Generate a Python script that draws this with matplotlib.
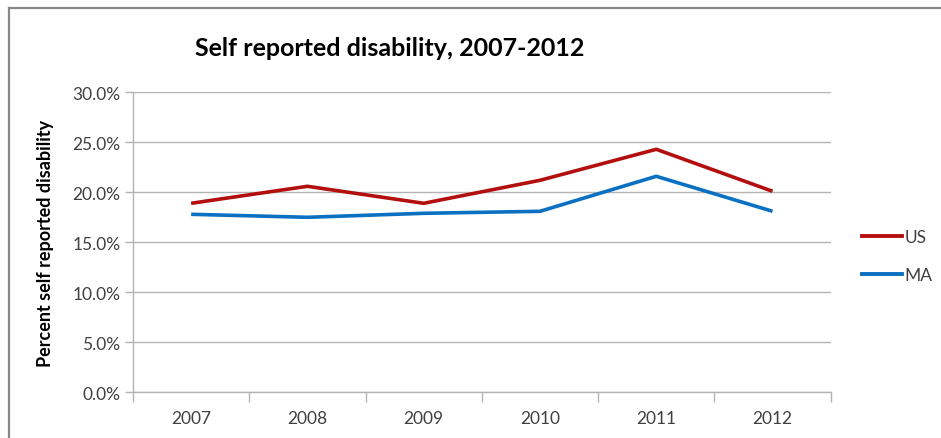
import matplotlib.pyplot as plt
from matplotlib.ticker import FuncFormatter, FixedLocator
from matplotlib.lines import Line2D

# Data
years = ['2007', '2008', '2009', '2010', '2011', '2012']
us_pct = [18.9, 20.6, 18.9, 21.2, 24.3, 20.1]
ma_pct = [17.8, 17.5, 17.9, 18.1, 21.6, 18.1]

US_COLOR = '#B40F0F'
MA_COLOR = '#0A70C2'
GRID = '#B4B4B4'
TEXT = '#404040'

plt.rcParams['font.family'] = ['Lato', 'DejaVu Sans']

fig = plt.figure(figsize=(9.41, 4.39), dpi=100)
ax = fig.add_axes([133 / 941, 1 - 393.3 / 439, (830.7 - 133) / 941, 300 / 439])

x = list(range(len(years)))
ax.plot(x, us_pct, color=US_COLOR, lw=2.6, solid_capstyle='butt', label='US')
ax.plot(x, ma_pct, color=MA_COLOR, lw=2.6, solid_capstyle='butt', label='MA')

ax.set_xlim(-0.5, len(years) - 0.5)
ax.set_ylim(0, 30)
ax.set_yticks([0, 5, 10, 15, 20, 25, 30])
ax.yaxis.set_major_formatter(FuncFormatter(lambda v, p: f'{v:.1f}%'))
ax.grid(axis='y', color=GRID, lw=1)
ax.set_axisbelow(True)

# category labels in the middle, tick marks on the boundaries
ax.set_xticks(x)
ax.set_xticklabels(years)
ax.xaxis.set_minor_locator(FixedLocator([i - 0.5 for i in range(len(years) + 1)]))
ax.tick_params(axis='x', which='major', length=0, pad=13, labelsize=12.5, labelcolor=TEXT)
ax.tick_params(axis='x', which='minor', length=7, color=GRID, width=1)
ax.tick_params(axis='y', length=6, color=GRID, width=1, pad=3, labelsize=12.5, labelcolor=TEXT)

for side in ['top', 'right']:
    ax.spines[side].set_visible(False)
for side in ['left', 'bottom']:
    ax.spines[side].set_color(GRID)
    ax.spines[side].set_linewidth(1)

ax.set_ylabel('Percent self reported disability', fontsize=13, fontweight='bold', labelpad=13)

fig.text(390 / 941, 1 - 48 / 439, 'Self reported disability, 2007-2012',
         ha='center', va='center', fontsize=18, fontweight='bold')

handles = [Line2D([], [], color=US_COLOR, lw=2.8), Line2D([], [], color=MA_COLOR, lw=2.8)]
fig.legend(handles, ['US', 'MA'], loc='center left', bbox_to_anchor=(862 / 941, 1 - 257 / 439),
           frameon=False, fontsize=12.5, handlelength=2.3, handletextpad=0.15, labelspacing=1.3,
           borderpad=0, borderaxespad=0, labelcolor=TEXT)

# outer chart border (cropped at right and bottom)
fig.add_artist(Line2D([8.5 / 941, 1], [1 - 8.5 / 439] * 2, transform=fig.transFigure, color='#888888', lw=1.6))
fig.add_artist(Line2D([8.5 / 941] * 2, [0, 1 - 8.5 / 439], transform=fig.transFigure, color='#888888', lw=1.6))

fig.savefig('out.png', dpi=100)
